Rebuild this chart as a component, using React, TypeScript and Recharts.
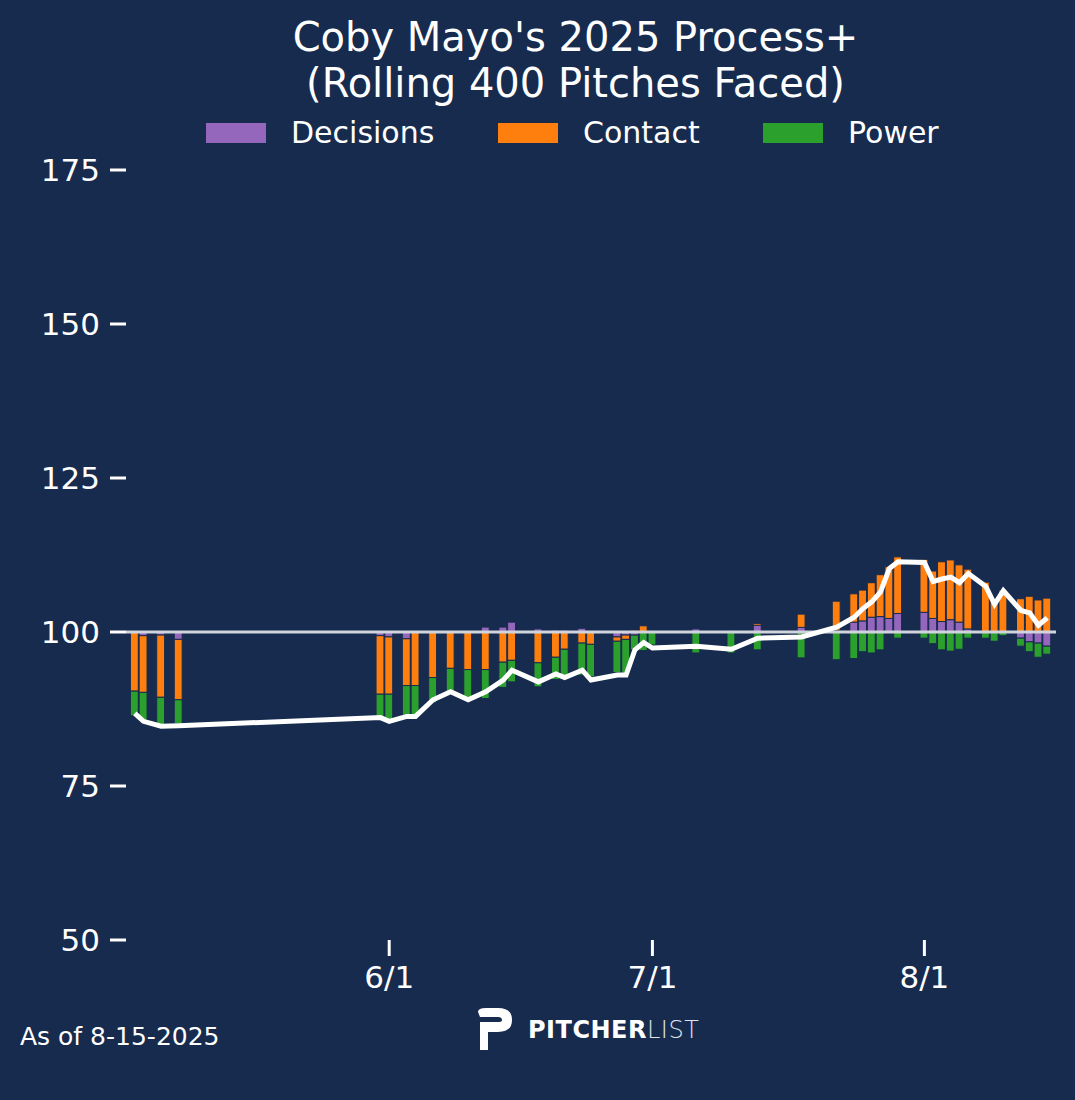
import React from "react";
import { Bar, ComposedChart, Line, ReferenceLine, XAxis, YAxis } from "recharts";

// days since 5/1
const gameDays = [2, 3, 5, 7, 30, 31, 33, 34, 36, 38, 40, 42, 44, 45, 48, 50, 51, 53, 54, 57, 58, 59, 60, 61, 66, 70, 73, 78, 82, 84, 85, 86, 87, 88, 89, 92, 93, 94, 95, 96, 97, 99, 100, 101, 103, 104, 105, 106];
const decisions = [0, -0.6, -0.5, -1.2, -0.6, -0.8, -1.1, 0, 0, 0, 0, 0.8, 0.8, 1.6, 0.5, 0.3, 0.3, 0.6, 0.2, -0.8, -0.5, -0.5, 0, 0.2, 0.5, 0.2, 1.1, 0.75, 0.3, 1.6, 1.8, 2.4, 2.5, 2.2, 3.0, 3.2, 2.2, 1.7, 2.0, 1.6, 0.5, 0, 0, 0, -1.0, -1.6, -1.8, -2.3];
const contact = [-9.6, -9.2, -10.1, -9.8, -9.5, -9.3, -7.6, -8.7, -7.4, -5.9, -6.1, -6.1, -4.9, -4.6, -5.0, -4.1, -2.8, -1.8, -2.0, -0.7, -0.7, 0.3, 1.0, 0, 0, 0, 0.3, 2.15, 4.7, 4.6, 5.0, 5.6, 6.8, 8.4, 9.2, 8.6, 7.7, 9.7, 9.7, 9.3, 9.7, 8.1, 5.5, 6.8, 5.4, 5.8, 5.2, 5.5];
const power = [-4.0, -4.5, -4.7, -3.9, -3.8, -4.5, -4.8, -4.8, -4.1, -3.8, -4.9, -4.7, -4.1, -3.5, -3.9, -3.6, -4.9, -5.2, -5.3, -5.1, -5.5, -2.4, -3.0, -2.1, -3.4, -3.4, -2.9, -4.2, -4.5, -4.3, -3.2, -3.4, -2.9, 0, -1.0, -1.0, -1.9, -2.9, -3.1, -2.8, -1.0, -1.0, -1.5, -0.6, -1.3, -1.6, -2.3, -1.3];
const processPlus = [86.8, 85.5, 84.7, 84.8, 86.1, 85.5, 86.3, 86.3, 89.0, 90.3, 89.0, 90.3, 92.2, 93.8, 91.9, 93.2, 92.6, 93.8, 92.2, 93.0, 93.0, 97.1, 98.3, 97.4, 97.7, 97.2, 99.0, 99.2, 100.8, 102.4, 103.8, 104.9, 106.5, 110.3, 111.4, 111.3, 108.2, 108.6, 108.9, 108.0, 109.5, 107.4, 104.5, 106.7, 103.5, 103.1, 101.1, 102.3];
const xTicks = [31, 61, 92];
const xTickLabels: Record<number, string> = { 31: "6/1", 61: "7/1", 92: "8/1" };
const yTicks = [-50, -25, 0, 25, 50, 75];

const data = gameDays.map((d, i) => ({
  day: d,
  decisions: decisions[i],
  contact: contact[i],
  power: power[i],
  line: processPlus[i] - 100,
}));

const BG = "#172b4f";
const font = "'DejaVu Sans', sans-serif";

const legendItems = [
  { name: "Decisions", color: "#9467bd", left: 206 },
  { name: "Contact", color: "#ff7f0e", left: 498 },
  { name: "Power", color: "#2ca02c", left: 763 },
];

const App = () => {
  return (
    <div style={{ position: "absolute", left: 0, top: 0, width: 1075, height: 1100, background: BG, fontFamily: font, color: "#fff" }}>
      <div style={{ position: "absolute", top: 14, width: 1151, textAlign: "center", fontSize: 40, lineHeight: "46px" }}>
        Coby Mayo's 2025 Process+<br />(Rolling 400 Pitches Faced)
      </div>
      {legendItems.map((l) => (
        <div key={l.name} style={{ position: "absolute", top: 115, left: l.left, display: "flex", alignItems: "center", fontSize: 30 }}>
          <span style={{ display: "inline-block", width: 60, height: 20, background: l.color, marginRight: 25 }} />
          {l.name}
        </div>
      ))}
      <ComposedChart width={1075} height={1100} data={data} stackOffset="sign" margin={{ top: 170, right: 19, bottom: 110, left: 46 }}>
        <XAxis
          dataKey="day"
          type="number"
          domain={[1, 107]}
          ticks={xTicks}
          tickFormatter={(v) => xTickLabels[v] || ""}
          axisLine={false}
          tickLine={{ stroke: "#fff", strokeWidth: 3 }}
          tickSize={16}
          tickMargin={10}
          height={50}
          tick={{ fill: "#fff", fontSize: 31, fontFamily: font }}
        />
        <YAxis
          type="number"
          domain={[-50, 75]}
          ticks={yTicks}
          tickFormatter={(v) => String(v + 100)}
          axisLine={false}
          tickLine={{ stroke: "#fff", strokeWidth: 3 }}
          tickSize={16}
          tickMargin={10}
          width={80}
          tick={{ fill: "#fff", fontSize: 31, fontFamily: font }}
          allowDataOverflow
        />
        <Bar dataKey="decisions" stackId="a" fill="#9467bd" stroke={BG} strokeWidth={1} barSize={9} isAnimationActive={false} />
        <Bar dataKey="contact" stackId="a" fill="#ff7f0e" stroke={BG} strokeWidth={1} barSize={9} isAnimationActive={false} />
        <Bar dataKey="power" stackId="a" fill="#2ca02c" stroke={BG} strokeWidth={1} barSize={9} isAnimationActive={false} />
        <ReferenceLine y={0} stroke="#d0d4dc" strokeWidth={3} />
        <Line dataKey="line" type="linear" stroke="#fff" strokeWidth={5} dot={false} isAnimationActive={false} />
      </ComposedChart>
      <div style={{ position: "absolute", left: 20, top: 1022, fontSize: 25 }}>As of 8-15-2025</div>
      <div style={{ position: "absolute", left: 476, top: 1008, display: "flex", alignItems: "center" }}>
        <svg width={40} height={44} viewBox="0 0 40 44">
          <path d="M2 4 Q2 0 10 0 L22 0 Q36 0 36 12 Q36 24 22 24 L12 24 L12 42 L4 42 L4 14 L22 14 Q26 14 26 12 Q26 9 22 9 L4 9 Z" fill="#fff" />
        </svg>
        <span style={{ fontSize: 24, fontWeight: "bold", marginLeft: 12, letterSpacing: 0.5 }}>PITCHER</span>
        <span style={{ fontSize: 24, fontWeight: 300, color: "#dfe3ea", letterSpacing: 0.5 }}>LIST</span>
      </div>
    </div>
  );
};

export default App;
